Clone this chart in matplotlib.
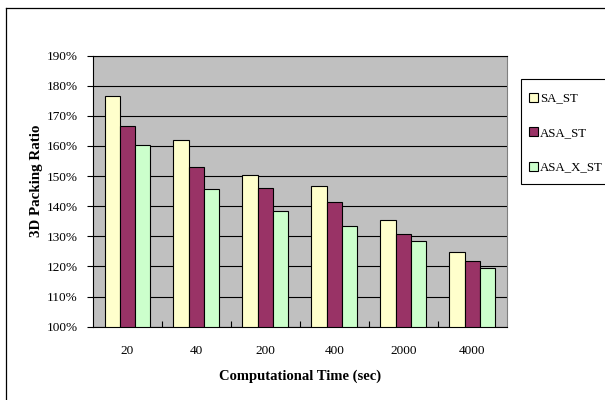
"""Grouped bar chart: 3D packing ratio vs computational time."""

import matplotlib
import numpy as np

matplotlib.use("Agg")
import matplotlib.pyplot as plt
from matplotlib.lines import Line2D
from matplotlib.patches import Rectangle

plt.rcParams["font.family"] = ["Liberation Serif", "DejaVu Serif"]

categories = ["20", "40", "200", "400", "2000", "4000"]
series_names = ["SA_ST", "ASA_ST", "ASA_X_ST"]
sa_st = [176.6, 161.9, 150.2, 146.6, 135.5, 124.8]
asa_st = [166.6, 153.1, 146.1, 141.5, 130.8, 121.9]
asa_x_st = [160.3, 145.8, 138.3, 133.5, 128.5, 119.4]
y_ticks = list(range(100, 191, 10))

colors = ["#FFFFCC", "#993366", "#CCFFCC"]

W, H = 605, 400
fig = plt.figure(figsize=(W / 100, H / 100), dpi=100)
ax = fig.add_axes([93 / W, 1 - 326.7 / H, (506.7 - 93) / W, (326.7 - 55.5) / H])
ax.set_facecolor("#C0C0C0")

x = np.arange(len(categories))
bw = 0.222
for i, (vals, name) in enumerate(zip([sa_st, asa_st, asa_x_st], series_names)):
    ax.bar(x + (i - 1) * bw, np.array(vals) - 100, bw, bottom=100,
           color=colors[i], edgecolor="black", linewidth=0.8, label=name, zorder=3)

ax.set_xlim(-0.5, len(categories) - 0.5)
ax.set_ylim(100, 190)
ax.set_yticks(y_ticks)
ax.set_yticklabels([f"{v}%" for v in y_ticks], fontsize=9.5)
ax.yaxis.grid(True, color="black", linewidth=0.8, zorder=1)
ax.set_axisbelow(True)
ax.tick_params(axis="y", direction="out", length=4, width=0.8, pad=7)

ax.set_xticks(x)
ax.set_xticklabels(categories, fontsize=9.5)
ax.tick_params(axis="x", which="major", length=0, pad=13)
ax.set_xticks(np.arange(0.5, len(categories) - 0.5), minor=True)
ax.tick_params(axis="x", which="minor", direction="in", length=4, width=0.8)

for side in ("left", "bottom", "top"):
    ax.spines[side].set_color("black")
    ax.spines[side].set_linewidth(0.8)
ax.spines["right"].set_color("#808080")
ax.spines["right"].set_linewidth(0.8)

ax.set_xlabel("Computational Time (sec)", fontsize=10.5, fontweight="bold", labelpad=9)
ax.set_ylabel("3D Packing Ratio", fontsize=10.8, fontweight="bold")
ax.yaxis.set_label_coords(-0.12, 0.537)

# legend box runs off the right edge like in the original
fig.add_artist(Rectangle((520.7 / W, 1 - 184 / H), 0.2, (184 - 79.3) / H,
                         transform=fig.transFigure, facecolor="white",
                         edgecolor="black", linewidth=0.8))
leg = fig.legend(loc="upper left", bbox_to_anchor=(528.5 / W, 1 - 92.5 / H),
                 fontsize=9.3, frameon=False, handlelength=0.7, handleheight=0.7,
                 handletextpad=0.2, labelspacing=1.74, borderpad=0,
                 borderaxespad=0)
for h in leg.legend_handles:
    h.set_linewidth(0.8)

# outer chart border (runs off the right and bottom of the image)
fig.add_artist(Line2D([6 / W, 1.0], [1 - 8 / H, 1 - 8 / H], color="black", linewidth=0.9))
fig.add_artist(Line2D([6 / W, 6 / W], [0.0, 1 - 8 / H], color="black", linewidth=0.9))

fig.savefig("out.png", dpi=100)
